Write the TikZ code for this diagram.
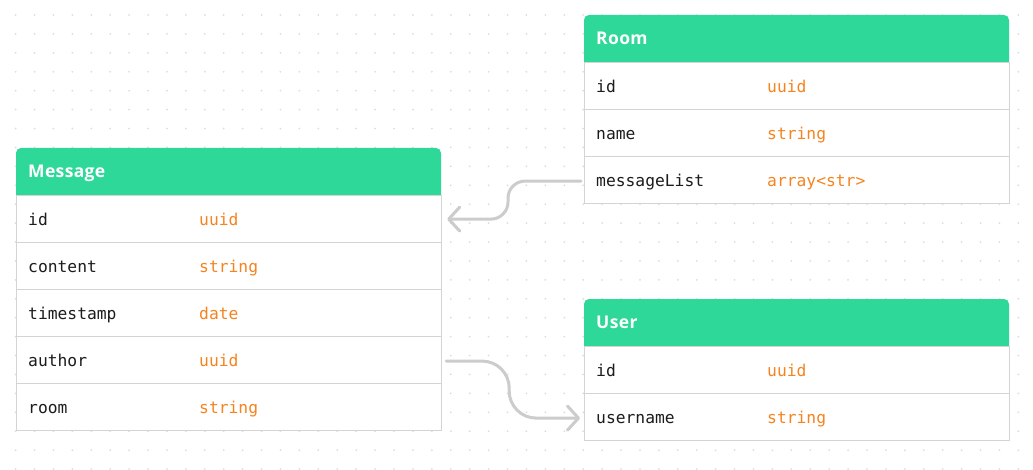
\documentclass[tikz,border=0pt]{standalone}
\usepackage{fontspec}
\usetikzlibrary{arrows.meta,calc}
\newfontfamily\monofnt{DejaVu Sans Mono}
\newfontfamily\ttlfnt[LetterSpace=2]{Open Sans}
\definecolor{hdrgreen}{HTML}{2ED898}
\definecolor{dotgray}{HTML}{DDDDDD}
\definecolor{bordergray}{HTML}{D4D4D4}
\definecolor{linkgray}{HTML}{CCCCCC}
\definecolor{typeorange}{HTML}{F5841F}
\definecolor{fieldblack}{HTML}{1C1C1C}
\tikzset{
  rowbox/.style={draw=bordergray, line width=1.2pt, fill=white, minimum width=425pt, minimum height=47pt, inner sep=0pt, anchor=north west},
  fld/.style={font=\monofnt\fontsize{16.3}{18}\selectfont, text=fieldblack, anchor=base west, inner sep=0pt},
  typ/.style={font=\monofnt\fontsize{16.3}{18}\selectfont, text=typeorange, anchor=base west, inner sep=0pt},
  ttl/.style={font=\ttlfnt\bfseries\fontsize{17.5}{20}\selectfont, text=white, anchor=base west, inner sep=0pt},
  link/.style={draw=linkgray, line width=3pt, line cap=round, line join=round},
  tip/.style={-{Straight Barb[length=11pt,width=24pt,round]}},
}
\newcommand{\erhead}[4]{% name, x, y, title
  \fill[hdrgreen] (#2,#3+47) [rounded corners=5pt] -- (#2,#3) -- (#2+425,#3) [sharp corners] -- (#2+425,#3+47) -- cycle;
  \coordinate (#1) at (#2,#3);
  \node[ttl] (#1-title) at (#2+12,#3+29.2) {#4};
}
\newcommand{\errow}[5]{% name, x, y, field, type
  \node[rowbox] (#1) at (#2,#3) {};
  \node[fld] (#1-f) at ($(#1.north west)+(12,30.8)$) {#4};
  \node[typ] (#1-t) at ($(#1.north west)+(183,30.8)$) {#5};
}
\begin{document}
\begin{tikzpicture}[x=1pt,y=-1pt]
\useasboundingbox (0,0) rectangle (1033,470);
\fill[white] (0,0) rectangle (1033,470);
\foreach \i in {0,...,53} {
  \foreach \j in {0,...,24} {
    \fill[dotgray] (15.6+18.92*\i,15+18.92*\j) circle (1pt);
  }
}
% Message
\erhead{mh}{16}{148}{Message}
\errow{m1}{16}{195}{id}{uuid}
\errow{m2}{16}{242}{content}{string}
\errow{m3}{16}{289}{timestamp}{date}
\errow{m4}{16}{336}{author}{uuid}
\errow{m5}{16}{383}{room}{string}
% Room
\erhead{rh}{584}{15}{Room}
\errow{r1}{584}{62}{id}{uuid}
\errow{r2}{584}{109}{name}{string}
\errow{r3}{584}{156}{messageList}{array<str>}
% User
\erhead{uh}{584}{299}{User}
\errow{u1}{584}{346}{id}{uuid}
\errow{u2}{584}{393}{username}{string}
% connectors
\coordinate (c1s) at ($(r3.west)+(-3,1)$);
\coordinate (c1e) at ($(m1.east)+(5,0)$);
\coordinate (c2s) at ($(m4.east)+(4,1)$);
\coordinate (c2e) at ($(u2.west)+(-4,1)$);
\draw[link,tip,rounded corners=17pt] (c1s) -- ++(-73,0) |- (c1e);
\draw[link,tip,rounded corners=27pt] (c2s) -- ++(63,0) |- (c2e);
\end{tikzpicture}
\end{document}
